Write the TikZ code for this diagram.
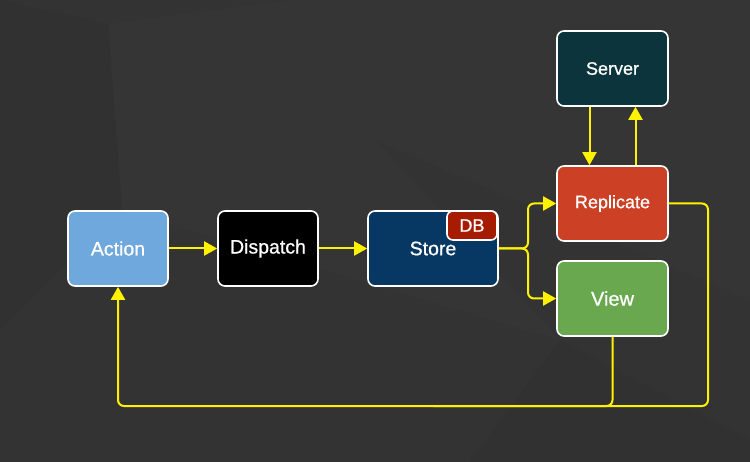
\documentclass[tikz,border=0pt]{standalone}
\usepackage{fontspec}
\setmainfont{Liberation Sans}
\newfontfamily\boxfont{Liberation Sans}[FakeBold=0.8]
\usepackage{tikz}
\usetikzlibrary{arrows.meta}
\usetikzlibrary{backgrounds}
\definecolor{bgdark}{HTML}{333333}
\definecolor{bglight}{HTML}{353535}
\definecolor{bgdeep}{HTML}{313131}
\definecolor{actionblue}{HTML}{6FA8DC}
\definecolor{storeblue}{HTML}{073763}
\definecolor{servercyan}{HTML}{0C343D}
\definecolor{replred}{HTML}{CC4125}
\definecolor{viewgreen}{HTML}{6AA84F}
\definecolor{dbred}{HTML}{A61C00}
\tikzset{
  box/.style={draw=white, line width=1.6pt, rounded corners=7pt, text=white,
    minimum width=100pt, minimum height=75pt, inner sep=0pt,
    font=\boxfont\fontsize{19.5}{22}\selectfont},
  flow/.style={draw=yellow, line width=2pt, rounded corners=6pt,
    -{Triangle[length=13pt,width=14pt]}},
  flowline/.style={draw=yellow, line width=2pt, rounded corners=6pt},
}

\begin{document}
\begin{tikzpicture}[x=1pt, y=-1pt]
\fill[bgdark] (0,0) rectangle (750,462);
\fill[bglight] (108,24) -- (290,0) -- (750,0) -- (750,300) -- (375,140) -- cycle;
\fill[bglight] (108,24) -- (375,140) -- (560,340) -- (122,210) -- cycle;
\fill[bgdeep] (0,330) -- (122,210) -- (108,24) -- (0,0) -- cycle;
\fill[bgdeep] (560,340) -- (750,440) -- (750,462) -- (470,462) -- cycle;
\useasboundingbox (0,0) rectangle (750,462);

\node[box, fill=actionblue] (action) at (118,248.5) {Action};
\node[box, fill=black] (dispatch) at (268,248.5) {Dispatch};
\node[box, fill=storeblue, minimum width=130pt] (store) at (433,248.5) {Store};
\node[box, fill=dbred, minimum width=50pt, minimum height=29pt, rounded corners=6pt,
  font=\boxfont\fontsize{18}{20}\selectfont] (db) at (472,225.5) {DB};
\node[box, fill=servercyan, minimum width=111pt, font=\boxfont\fontsize{18}{20}\selectfont]
  (server) at (612.5,68.5) {Server};
\node[box, fill=replred, minimum width=111pt, font=\boxfont\fontsize{18}{20}\selectfont]
  (replicate) at (612.5,203.5) {Replicate};
\node[box, fill=viewgreen, minimum width=111pt, font=\boxfont\fontsize{20}{22}\selectfont]
  (view) at (612.5,298.5) {View};

\coordinate (split) at (528,248.5);
\coordinate (loop) at (708,406);

\draw[flow] (action) -- (dispatch);
\draw[flow] (dispatch) -- (store);
\draw[flow] (store.east) -- (split) |- (replicate.west);
\draw[flow] (store.east) -- (split) |- (view.west);
\draw[flow] ([xshift=-23pt]server.south) -- ([xshift=-23pt]replicate.north);
\draw[flow] ([xshift=23pt]replicate.north) -- ([xshift=23pt]server.south);
\draw[flow] (replicate.east) -| (loop) -| (action.south);
\draw[flowline] (view.south) |- (store.south |- loop);
\end{tikzpicture}
\end{document}
